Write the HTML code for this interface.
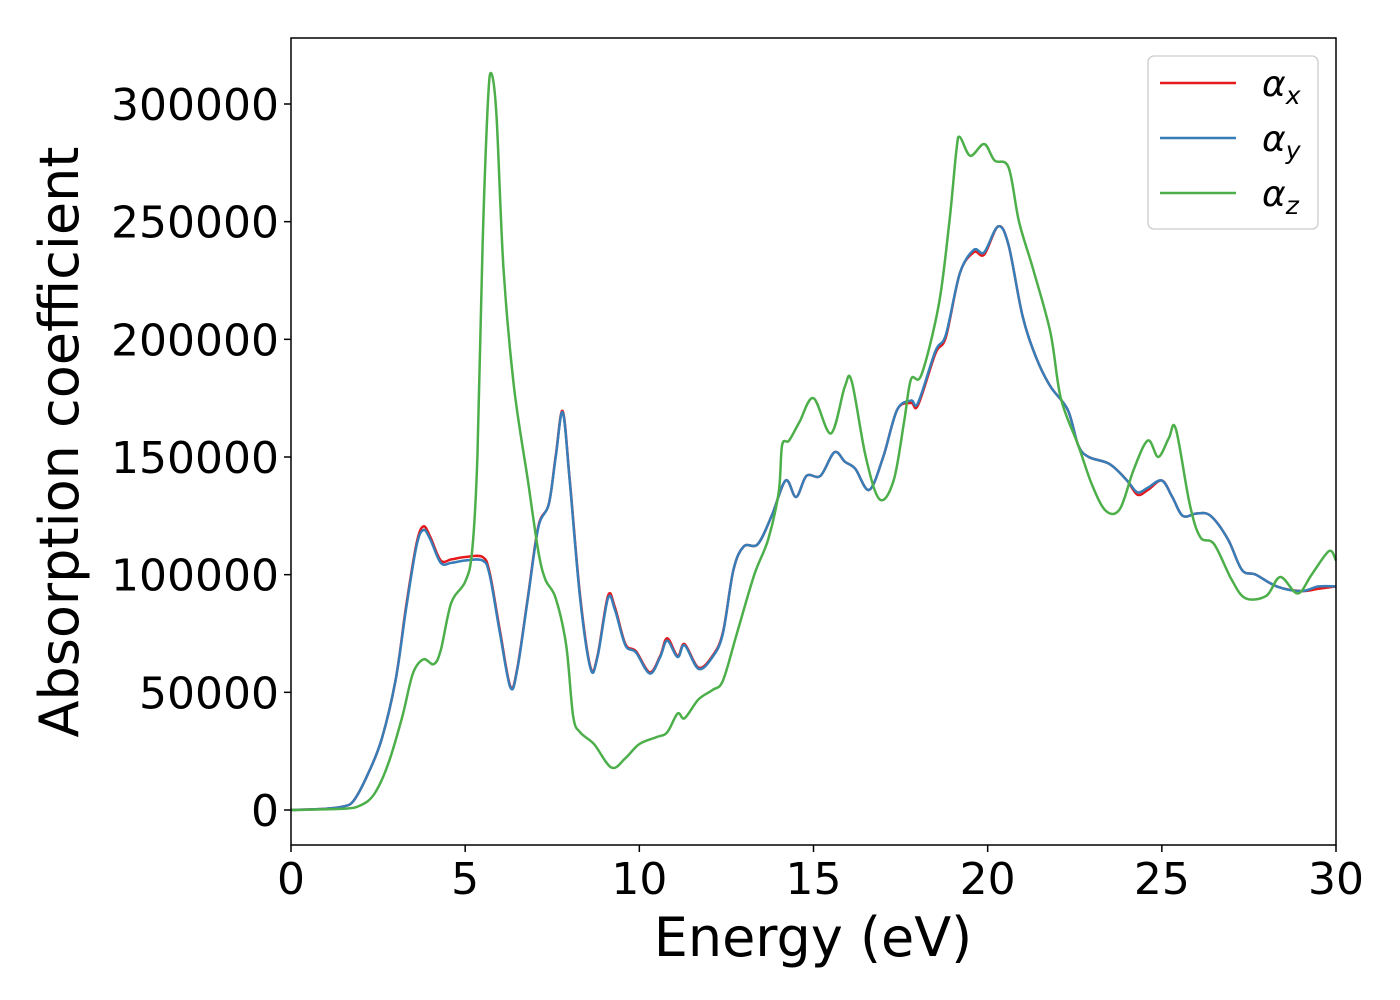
<!DOCTYPE html>
<html><head><meta charset="utf-8"><style>
body{margin:0;background:#fff;}
svg{display:block;font-family:"DejaVu Sans","Liberation Sans",sans-serif;}
</style></head><body>
<svg id="chart" width="1400" height="1000">
<rect x="0" y="0" width="1400" height="1000" fill="#fff"/>
<g id="series"></g>
<rect x="291" y="38" width="1045" height="807" fill="none" stroke="#000" stroke-width="1.5"/>
<g id="xticks"></g>
<g id="yticks"></g>
<text x="813" y="956" font-size="54" text-anchor="middle">Energy (eV)</text>
<text transform="translate(78,442) rotate(-90)" font-size="54" text-anchor="middle">Absorption coefficient</text>
<g>
<rect x="1148" y="56" width="170" height="173" rx="6" fill="#fff" fill-opacity="0.8" stroke="#ccc" stroke-width="1.3"/>
<line x1="1160" y1="83" x2="1236" y2="83" stroke="#e41a1c" stroke-width="2.5"/>
<text x="1262" y="96" font-size="36" font-style="italic">α<tspan font-size="25" dy="8">x</tspan></text>
<line x1="1160" y1="138" x2="1236" y2="138" stroke="#377eb8" stroke-width="2.5"/>
<text x="1262" y="151" font-size="36" font-style="italic">α<tspan font-size="25" dy="8">y</tspan></text>
<line x1="1160" y1="193" x2="1236" y2="193" stroke="#4daf4a" stroke-width="2.5"/>
<text x="1262" y="206" font-size="36" font-style="italic">α<tspan font-size="25" dy="8">z</tspan></text>
</g>
</svg>
<script>
const xTicks=[0,5,10,15,20,25,30];
const yTicks=[0,50000,100000,150000,200000,250000,300000];
const energyX=[0,1,1.5,1.8,2.2,2.6,3.0,3.3,3.6,3.8,4.0,4.3,4.6,5.0,5.5,5.7,6.0,6.3,6.5,6.8,7.1,7.4,7.6,7.8,8.0,8.3,8.6,8.8,9.1,9.3,9.6,9.9,10.3,10.6,10.8,11.1,11.3,11.7,12.1,12.4,12.7,13.0,13.4,13.8,14.2,14.5,14.8,15.2,15.6,15.9,16.2,16.6,17.0,17.4,17.8,18.0,18.5,18.8,19.2,19.6,19.9,20.3,20.6,21.0,21.4,21.8,22.3,22.6,22.9,23.5,24.0,24.3,24.6,25.0,25.3,25.6,26.0,26.4,26.9,27.3,27.7,28.3,29.0,29.5,30];
const alphaY=[0,500,1500,4000,15000,30000,55000,85000,112000,119000,115000,105000,105000,106000,106000,100000,75000,52000,60000,90000,120000,130000,150000,169000,140000,90000,60000,65000,90000,85000,70000,67000,58000,65000,72000,65000,70000,60000,65000,75000,102000,112000,113000,125000,140000,133000,142000,142000,152000,148000,145000,136000,150000,170000,174000,173000,195000,202000,228000,238000,237000,248000,240000,210000,192000,180000,170000,155000,150000,147000,140000,135000,137000,140000,133000,125000,126000,125000,115000,102000,100000,95000,93000,95000,95000];
const alphaX=[0,500,1500,4000,15000,30000,55000,86000,113000,120500,116000,106000,106500,107500,107500,101000,76000,52500,60500,90500,120500,130000,150500,169500,140500,91000,60500,65500,91000,86000,70500,67500,58500,65500,73000,65500,70500,60500,65500,75500,102000,112000,113000,125000,140000,133000,142000,142000,152000,148000,145000,136000,150000,170000,173000,172000,194000,201000,228000,237000,236000,248000,240000,210000,192000,180000,170000,155000,150000,147000,140000,134000,136000,140000,133000,125000,126000,125000,115000,102000,100000,95000,93000,94000,95000];
const energyZ=[0,1.5,2.0,2.4,2.8,3.2,3.5,3.8,4.1,4.3,4.6,5.0,5.2,5.35,5.5,5.65,5.75,5.9,6.1,6.4,6.8,7.1,7.3,7.6,7.9,8.1,8.3,8.7,9.2,9.6,10.0,10.5,10.8,11.1,11.3,11.7,12.1,12.4,12.8,13.3,13.7,14.0,14.1,14.3,14.6,15.0,15.5,15.9,16.1,16.5,16.9,17.3,17.6,17.8,18.1,18.6,18.9,19.1,19.2,19.5,19.9,20.2,20.6,20.9,21.3,21.8,22.1,22.6,23.0,23.4,23.8,24.2,24.6,24.9,25.2,25.4,25.8,26.1,26.5,27.0,27.4,28.0,28.4,28.9,29.3,29.8,30];
const alphaZ=[0,500,2000,7000,20000,40000,58000,64000,62000,68000,88000,97000,110000,150000,240000,300000,313000,295000,230000,180000,140000,110000,98000,90000,70000,40000,33000,28000,18000,22000,28000,31000,33000,41000,39000,47000,51000,55000,75000,100000,115000,135000,155000,157000,165000,175000,160000,180000,182000,150000,132000,140000,165000,183000,185000,215000,250000,280000,286000,278000,283000,276000,273000,250000,230000,203000,175000,155000,138000,127000,128000,145000,157000,150000,158000,162000,130000,116000,113000,98000,90000,91000,99000,92000,100000,110000,106000];
const X0=291,X1=1336,Y0=810,Y300=104;
const sx=e=>X0+(X1-X0)*e/30;
const sy=v=>Y0-(Y0-Y300)*v/300000;
const NS='http://www.w3.org/2000/svg';
function smooth(xs,ys){
  const p=xs.map((e,i)=>[sx(e),sy(ys[i])]);
  let d='M'+p[0][0].toFixed(1)+','+p[0][1].toFixed(1);
  for(let i=0;i<p.length-1;i++){
    const a=p[Math.max(0,i-1)],b=p[i],c=p[i+1],e=p[Math.min(p.length-1,i+2)];
    const c1=[b[0]+(c[0]-a[0])/6,b[1]+(c[1]-a[1])/6],c2=[c[0]-(e[0]-b[0])/6,c[1]-(e[1]-b[1])/6];
    d+='C'+c1[0].toFixed(1)+','+c1[1].toFixed(1)+' '+c2[0].toFixed(1)+','+c2[1].toFixed(1)+' '+c[0].toFixed(1)+','+c[1].toFixed(1);
  }
  return d;
}
const sg=document.getElementById('series');
[[energyX,alphaX,'#e41a1c','line-alpha-x'],[energyX,alphaY,'#377eb8','line-alpha-y'],[energyZ,alphaZ,'#4daf4a','line-alpha-z']].forEach(s=>{
  const path=document.createElementNS(NS,'path');
  path.setAttribute('d',smooth(s[0],s[1]));
  path.setAttribute('fill','none');
  path.setAttribute('stroke',s[2]);
  path.setAttribute('stroke-width','2.5');
  
  
  sg.appendChild(path);
});
const xg=document.getElementById('xticks');
xTicks.forEach(t=>{
  const l=document.createElementNS(NS,'line');
  l.setAttribute('x1',sx(t));l.setAttribute('x2',sx(t));l.setAttribute('y1',845);l.setAttribute('y2',852);
  l.setAttribute('stroke','#000');l.setAttribute('stroke-width','1.5');
  
  
  xg.appendChild(l);
  const tx=document.createElementNS(NS,'text');
  tx.setAttribute('x',sx(t));tx.setAttribute('y',894);tx.setAttribute('font-size','44');tx.setAttribute('text-anchor','middle');
  tx.textContent=t;
  
  
  xg.appendChild(tx);
});
const yg=document.getElementById('yticks');
yTicks.forEach(t=>{
  const l=document.createElementNS(NS,'line');
  l.setAttribute('x1',284);l.setAttribute('x2',291);l.setAttribute('y1',sy(t));l.setAttribute('y2',sy(t));
  l.setAttribute('stroke','#000');l.setAttribute('stroke-width','1.5');
  
  
  yg.appendChild(l);
  const tx=document.createElementNS(NS,'text');
  tx.setAttribute('x',279);tx.setAttribute('y',sy(t)+16);tx.setAttribute('font-size','44');tx.setAttribute('text-anchor','end');
  tx.textContent=t;
  
  
  yg.appendChild(tx);
});
</script>
</body></html>
